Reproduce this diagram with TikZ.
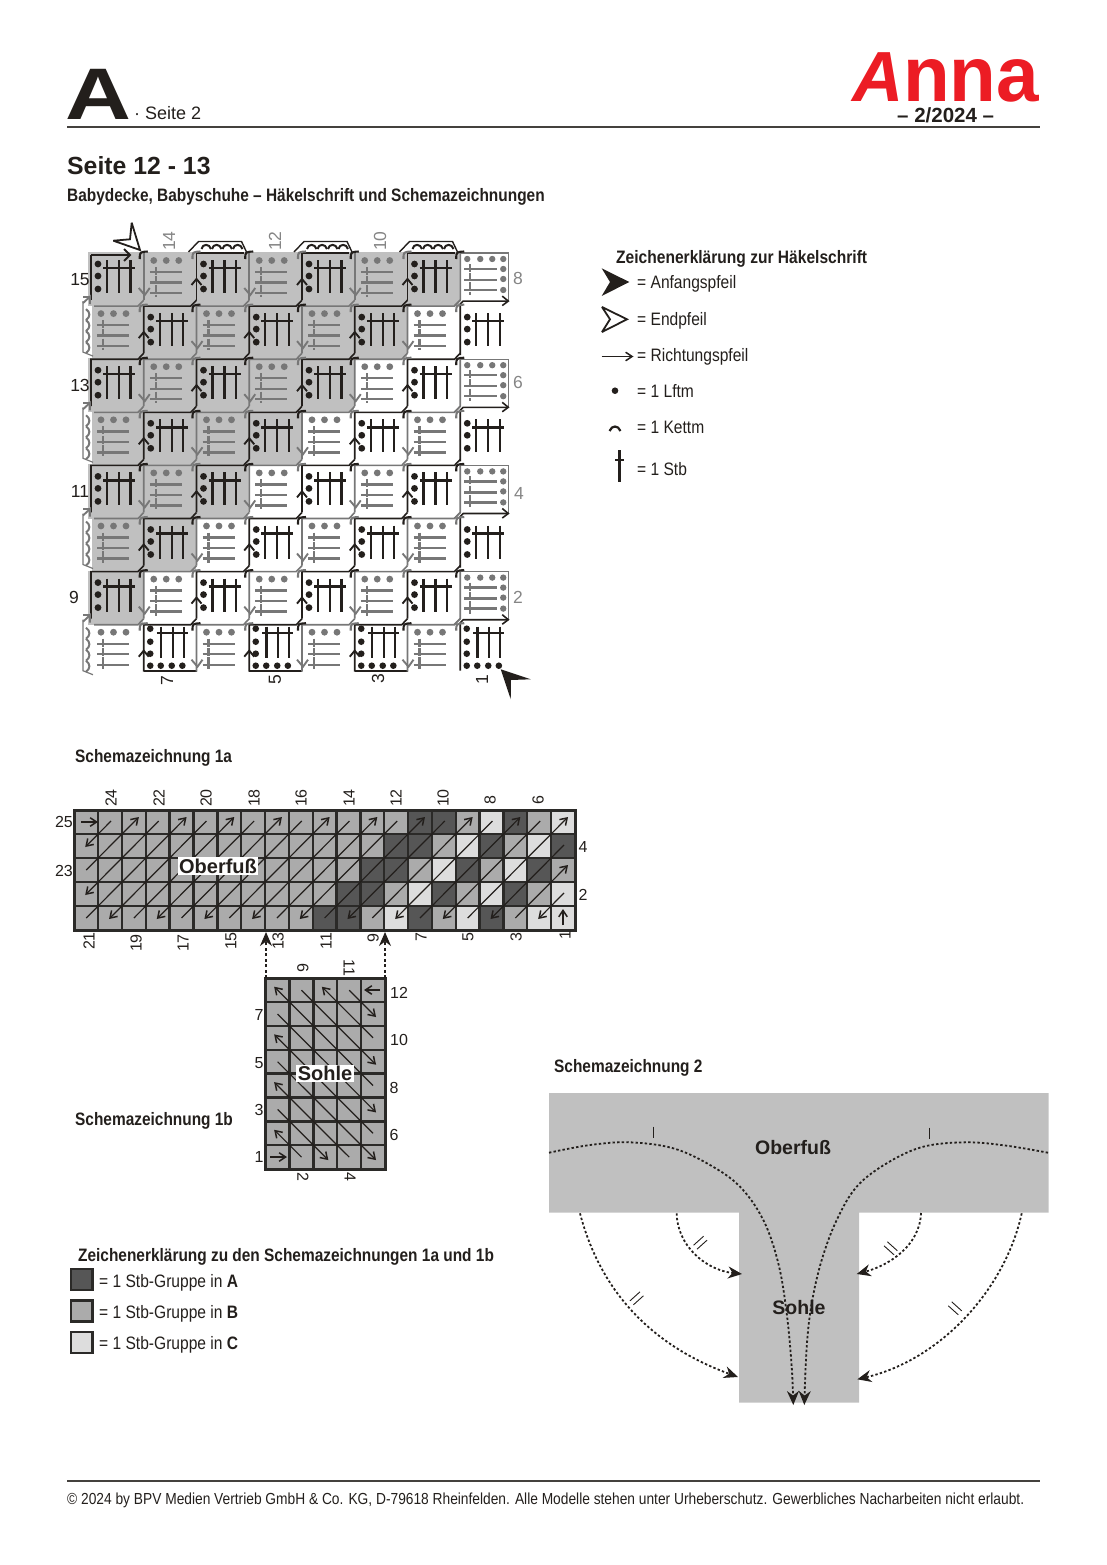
\documentclass[tikz,border=0pt]{standalone}
\usepackage{fontspec}
\setmainfont{Liberation Sans}
\newfontfamily\nar[FakeStretch=0.865]{Liberation Sans}
\newfontfamily\narb[FakeStretch=0.857]{Liberation Sans}
\newfontfamily\narf[FakeStretch=0.86]{Liberation Sans}
\usetikzlibrary{arrows.meta}
\definecolor{ink}{HTML}{231F1C}
\definecolor{gink}{HTML}{777777}
\definecolor{lab}{HTML}{858585}
\definecolor{shadeg}{HTML}{C0C0C0}
\definecolor{schemA}{HTML}{565656}
\definecolor{schemB}{HTML}{ABABAB}
\definecolor{schemC}{HTML}{DDDDDD}
\definecolor{grid}{HTML}{2B2A28}
\definecolor{annared}{HTML}{EC1C24}
\newcommand{\fs}[1]{\fontsize{#1}{#1}\selectfont}
\tikzset{
  txt/.style={inner sep=0pt,anchor=base west,text=ink},
  num/.style={inner sep=0pt,text=ink,font=\fs{17.5}},
  snum/.style={inner sep=0pt,text=ink,font=\fs{16}},
  gnum/.style={num,text=lab},
  rnum/.style={num,rotate=90},
  srnum/.style={snum,rotate=90},
  rrnum/.style={snum,rotate=-90},
  grnum/.style={gnum,rotate=90},
  barb/.style={-{Straight Barb[length=6.5pt,width=8.5pt,line width=1.5pt]},line width=1.2pt,draw=ink},
  dots/.style={line width=1.8pt,draw=ink,dash pattern=on 2.4pt off 2.2pt},
  dotsarr/.style={dots,-{Stealth[length=14pt,width=12pt,fill=ink]}},
  dashup/.style={line width=1.2pt,draw=ink,dash pattern=on 3pt off 2.5pt,-{Stealth[length=14pt,width=12pt,fill=ink]}},
  sgrid/.style={line width=2.4pt,draw=grid},
  sframe/.style={line width=3pt,draw=grid},
  tag/.style={inner sep=1.5pt,fill=white,text=ink,font=\bfseries\fs{20}},
  cellline/.style={line width=1.6pt,line join=miter},
  stem/.style={line width=2.4pt},
  key/.style={line width=2.8pt,draw=grid},
}
\begin{document}
\begin{tikzpicture}[x=1pt,y=-1pt]
\useasboundingbox (0,0) rectangle (1107,1565);
% ---------- header
\node[txt] (bigA) at (65,120) {\bfseries\fs{73}\scalebox{1.25}[1]{A}};
\node[txt] (seite) at (134,119.5) {\fs{18}· Seite 2};
\draw[line width=1.2pt,draw=ink!85] (67,127) -- (1040,127);
\node[txt,text=annared] (annaA) at (852,102) {\bfseries\itshape\fs{71}A};
\node[txt,text=annared] (annaB) at (903,102) {\bfseries\fs{78}\scalebox{0.98}[1]{nna}};
\node[txt] (issue) at (897,123) {\bfseries\fs{20.5}– 2/2024 –};
\node[txt] (pg) at (67,175) {\bfseries\fs{24.8}Seite 12 - 13};
\node[txt] (sub) at (67,201) {\narb\bfseries\fs{18}Babydecke, Babyschuhe – Häkelschrift und Schemazeichnungen};
% ---------- crochet chart: shading
\foreach \r in {0,...,6}{
  \pgfmathtruncatemacro{\last}{6-\r}
  \pgfmathsetmacro{\Ytop}{253+53.1*\r}
  \pgfmathsetmacro{\Xend}{91+52.75*(\last+1)}
  \pgfmathtruncatemacro{\od}{mod(\r,2)}
  \pgfmathsetmacro{\Xstart}{\od==1 ? 92 : 88}
  \fill[fill=shadeg] (\Xstart,\Ytop-1) rectangle (\Xend-1,\Ytop+53.1);
}
% ---------- crochet chart: cells
\foreach \r in {0,...,7}{
 \foreach \c in {0,...,7}{
  \pgfmathsetmacro{\X}{91+52.75*\c}
  \pgfmathsetmacro{\Y}{253+53.1*\r}
  \pgfmathtruncatemacro{\odd}{mod(\r+\c,2)}
  \begin{scope}[shift={(\X,\Y)}]
  \ifnum\odd=0
    % black stitch group
    \ifnum\r=7
      \foreach \a in {4,17,29,41}{\fill[ink] (6.5,\a) circle (3.3);}
      \foreach \a in {17,28,38.6}{\fill[ink] (\a,41) circle (3.3);}
      \draw[ink,stem] (13,8) -- (44,8);
      \foreach \a in {17.2,29,40}{\draw[ink,stem] (\a,2) -- (\a,33);}
    \else
      \foreach \a in {11,23,36}{\fill[ink] (7,\a) circle (3.4);}
      \draw[ink,stem] (12,15) -- (44,15);
      \foreach \a in {16,28,39.5}{\draw[ink,stem] (\a,7) -- (\a,40);}
    \fi
    \ifnum\c=7
      \draw[ink,cellline] (0,\ifnum\r=7 46\else 49\fi) -- (0,-2) -- (3,-5) -- (48,-5);
      \draw[ink,cellline] (42,-10) -- (48,-5) -- (42,-0.5);
    \else
      \ifnum\r=0
        \ifnum\c=0
          \draw[ink,cellline] (0,47) -- (0,2);
        \else
          \draw[ink,cellline] (0,47) -- (0,0) -- (47,0);
        \fi
      \else
        \draw[ink,cellline] (0,47) -- (0,0) -- (47,0) -- (52.75,-6);
      \fi
      \ifnum\c>0
        \draw[ink,line width=1.9pt] (-5,32) -- (0,26) -- (5,32);
      \fi
    \fi
    \ifnum\r=7 \ifnum\c<7 \draw[ink,cellline] (0,46) -- (53,46); \fi\fi
  \else
    % grey chain group
    \ifnum\c=7
      \foreach \a in {7,20,32,43}{\fill[gink] (\a,6) circle (3.2);}
      \foreach \a in {16,26,37}{\fill[gink] (43,\a) circle (3.2);}
      \foreach \a in {16,27,37}{\draw[gink,stem] (4,\a) -- (37,\a);}
      \draw[gink,stem,dash pattern=on 8pt off 1.2pt] (10,11) -- (10,42);
      \draw[gink,line width=1.3pt] (0,0) -- (48,0) -- (48,48);
      \draw[gink,cellline] (0,0) -- (0,47) -- (-6,53);
    \else
      \foreach \a in {10,22.5,35}{\fill[gink] (\a,7.5) circle (3.4);}
      \foreach \a in {19,29.5,40}{\draw[gink,stem] (6,\a) -- (38,\a);}
      \draw[gink,stem,dash pattern=on 8pt off 1.2pt] (12,14) -- (12,44);
      \ifnum\c=0
        \draw[gink,cellline] (3,0) -- (47,0) -- (52.75,-6);
        \draw[gink,line width=1.2pt] (-8,-5) -- (-8,46) -- (2,50);
        \draw[gink,line width=1.9pt] (-8,-3) -- (-1,-9.5) -- (-1,-2);
        \draw[gink,line width=1.9pt] (-8,-9.5) -- (-1,-9.5);
        \foreach \a in {0,1,2,3}{
          \draw[gink,line width=2pt] (-5,3+11*\a) .. controls (-0.5,6+11*\a) and (-0.5,11+11*\a) .. (-5,14+11*\a);
        }
      \else
        \ifnum\r=0
          \draw[gink,cellline] (0,0) -- (0,47);
        \else
          \draw[gink,cellline] (0,47) -- (0,0) -- (47,0) -- (52.75,-6);
        \fi
        \draw[gink,line width=1.9pt] (-5,35) -- (1,42) -- (6,35);
      \fi
    \fi
  \fi
  % slip stitch at the corner
  \ifnum\c>0
    \ifnum\odd=1
      \draw[ink,line width=2.1pt] (-4,6) .. controls (-4,-1) .. (4,-1.5);
    \else
      \draw[gink,line width=2.1pt] (-4,6) .. controls (-4,-1) .. (4,-1.5);
    \fi
  \fi
  % chains above the top row
  \ifnum\r=0 \ifnum\c>0 \ifnum\odd=0
    \draw[ink,line width=1.4pt] (-8,-1) -- (2,-11.5) -- (45,-11.5) -- (50,-1);
    \foreach \a in {0,1,2,3}{
      \draw[ink,line width=2pt] (5+10.5*\a,-4) .. controls (6+10.5*\a,-9.5) and (13+10.5*\a,-9.5) .. (14.5+10.5*\a,-4);
    }
  \fi\fi\fi
  \end{scope}
 }
}
% first-row arrow and End / Start arrows
\draw[ink,cellline] (91,255) -- (130,255);
\draw[ink,line width=1.9pt] (124,249) -- (130,255) -- (124,261);
\draw[ink,line width=1.8pt,line join=miter,miter limit=2.5] (140,250) -- (131.7,222.7) -- (130,239.3) -- (113.3,240.7) -- cycle;
\fill[ink] (500.7,669.3) -- (530.7,679.3) -- (511,680) -- (510.7,699.3) -- cycle;
% chart labels
\node[num] (l15) at (80,280) {15};
\node[num] (l13) at (80,385) {13};
\node[num] (l11) at (80,491) {11};
\node[num] (l9) at (74,597) {9};
\node[gnum] (r8) at (518,278) {8};
\node[gnum] (r6) at (518,382) {6};
\node[gnum] (r4) at (519,493) {4};
\node[gnum] (r2) at (518,597) {2};
\node[grnum] (t14) at (169,241) {14};
\node[grnum] (t12) at (275,241) {12};
\node[grnum] (t10) at (380,241) {10};
\node[rnum] (b7) at (167,681) {7};
\node[rnum] (b5) at (275,680) {5};
\node[rnum] (b3) at (378,679) {3};
\node[rnum] (b1) at (482,680) {1};
% ---------- legend crochet
\node[txt] (legtitle) at (616,263) {\nar\bfseries\fs{18}Zeichenerklärung zur Häkelschrift};
\fill[ink] (629.3,282) -- (601.7,268.3) -- (610,282) -- (601.7,296) -- cycle;
\node[txt] (lg1) at (637,288.5) {\nar\fs{18}= Anfangspfeil};
\draw[ink,line width=1.8pt,line join=miter,miter limit=2.5] (627,319.3) -- (602,307) -- (610,319.3) -- (602,332) -- cycle;
\node[txt] (lg2) at (637,325) {\nar\fs{18}= Endpfeil};
\draw[barb] (601.7,356.5) -- (633.5,356.5);
\node[txt] (lg3) at (637,361) {\nar\fs{18}= Richtungspfeil};
\fill[ink] (615,390.7) circle (3.3);
\node[txt] (lg4) at (637,397) {\nar\fs{18}= 1 Lftm};
\draw[ink,line width=2.2pt] (609.5,431) .. controls (612,425) and (618,425) .. (620.5,431);
\node[txt] (lg5) at (637,433) {\nar\fs{18}= 1 Kettm};
\draw[ink,line width=2.4pt] (619.5,450) -- (619.5,482);
\draw[ink,line width=2.2pt] (615,460) -- (624,460);
\node[txt] (lg6) at (637,475) {\nar\fs{18}= 1 Stb};
% ---------- Schemazeichnung 1a
\node[txt] (s1a) at (75,762) {\narb\bfseries\fs{18}Schemazeichnung 1a};
\fill[schemB] (74.3,810) rectangle (575,930);
\foreach \r/\lst in {0/{B,B,B,B,A,A,B,C,A,B,C},1/{B,B,B,A,A,B,C,A,B,C,A},2/{B,B,A,A,B,C,A,B,C,A,B},3/{B,A,A,B,C,A,B,C,A,B,C},4/{A,A,B,C,A,B,C,A,B,C,C}}{
  \foreach \l [count=\i from 10] in \lst {
    \fill[fill=schem\l] (74.3+23.84*\i,810+24*\r) rectangle (74.3+23.84*\i+23.84,810+24*\r+24);
  }
}
\foreach \i in {1,...,20}{\draw[sgrid] (74.3+23.84*\i,810) -- (74.3+23.84*\i,930);}
\foreach \j in {1,...,4}{\draw[sgrid] (74.3,810+24*\j) -- (575,810+24*\j);}
\draw[sframe] (74.3,810) rectangle (575,930);
% diagonals
\foreach \k in {1,...,23}{
  \pgfmathtruncatemacro{\cA}{max(\k-4,0)}
  \pgfmathtruncatemacro{\cB}{min(\k,20)}
  \pgfmathsetmacro{\xa}{74.3+23.84*(\cA+0.5)}
  \pgfmathsetmacro{\ya}{810+24*(\k-\cA+0.5)}
  \pgfmathsetmacro{\xb}{74.3+23.84*(\cB+0.5)}
  \pgfmathsetmacro{\yb}{810+24*(\k-\cB+0.5)}
  \pgfmathtruncatemacro{\kodd}{mod(\k,2)}
  \ifnum\kodd=1
    \draw[barb] (\xb+1,\yb-1) -- (\xa-1,\ya+1);
  \else
    \draw[barb] (\xa,\ya) -- (\xb+5,\yb-5);
  \fi
}
\draw[barb] (81,822) -- (98,822);
\draw[barb] (563,925) -- (563,909);
\foreach \n/\x/\y in {24/111/798,22/159/798,20/206/798,18/254/798,16/301/798,14/349/798,12/396/798,10/443/798,8/490/800,6/538/800,21/89/941,19/136/943,17/183/943,15/231/941,13/278/941,11/326/941,9/373/938,7/421/937,5/468/937,3/516/937,1/565/935}{
  \node[srnum] (oa\n) at (\x,\y) {\n};
}
\node[snum] (ol25) at (64,822) {25};
\node[snum] (ol23) at (64,871) {23};
\node[snum] (or4) at (583,847) {4};
\node[snum] (or2) at (583,895) {2};
\node[tag] (oberfuss) at (218,866) {Oberfuß};
% ---------- Schemazeichnung 1b
\node[txt] (s1b) at (75,1125) {\narb\bfseries\fs{18}Schemazeichnung 1b};
\fill[schemB] (265.7,978.3) rectangle (385,1169);
\foreach \i in {1,...,4}{\draw[sgrid] (265.7+23.86*\i,978.3) -- (265.7+23.86*\i,1169);}
\foreach \j in {1,...,7}{\draw[sgrid] (265.7,978.3+23.84*\j) -- (385,978.3+23.84*\j);}
\draw[sframe] (265.7,978.3) rectangle (385,1169);
\foreach \ca/\ra/\cb/\rb/\dirn in {0/6/1/7/n,0/5/2/7/s,0/4/3/7/n,0/3/4/7/s,0/2/4/6/n,0/1/4/5/s,0/0/4/4/n,1/0/4/3/s,2/0/4/2/n,3/0/4/1/s}{
  \pgfmathsetmacro{\xa}{265.7+23.86*(\ca+0.5)}
  \pgfmathsetmacro{\ya}{978.3+23.84*(\ra+0.5)}
  \pgfmathsetmacro{\xb}{265.7+23.86*(\cb+0.5)}
  \pgfmathsetmacro{\yb}{978.3+23.84*(\rb+0.5)}
  \if\dirn n
    \draw[barb] (\xb,\yb) -- (\xa-3.5,\ya-3.5);
  \else
    \draw[barb] (\xa,\ya) -- (\xb+3,\yb+3);
  \fi
}
\draw[barb] (270,1157) -- (287,1157);
\draw[barb] (380,990) -- (364,990);
\coordinate (upL) at (266,978);
\coordinate (upR) at (385,978);
\coordinate (upLt) at (266,932);
\coordinate (upRt) at (385,932);
\draw[dashup] (upL) -- (upLt);
\draw[dashup] (upR) -- (upRt);
\node[tag] (sohle1) at (325,1073.5) {Sohle};
\foreach \n/\y in {12/993,10/1040,8/1088,6/1135}{
  \pgfmathsetmacro{\xx}{\n>9 ? 399 : 394}
  \node[snum] (sr\n) at (\xx,\y) {\n};
}
\foreach \n/\y in {7/1015,5/1063,3/1110,1/1157}{\node[snum] (sl\n) at (259,\y) {\n};}
\node[rrnum] (st6) at (303,968) {6};
\node[rrnum] (st11) at (349,968) {11};
\node[rrnum] (sb2) at (303,1177) {2};
\node[rrnum] (sb4) at (350,1177) {4};
% ---------- legend 1a/1b
\node[txt] (keyt) at (78,1261) {\narb\bfseries\fs{18}Zeichenerklärung zu den Schemazeichnungen 1a und 1b};
\fill[schemA,draw=grid,key] (71,1269) rectangle (92.5,1290);
\node[txt] (k1) at (99,1287) {\nar\fs{18}= 1 Stb-Gruppe in \textbf{A}};
\fill[schemB,draw=grid,key] (71,1300.5) rectangle (92.5,1321.5);
\node[txt] (k2) at (99,1318) {\nar\fs{18}= 1 Stb-Gruppe in \textbf{B}};
\fill[schemC,draw=grid,key] (71,1332) rectangle (92.5,1353);
\node[txt] (k3) at (99,1349) {\nar\fs{18}= 1 Stb-Gruppe in \textbf{C}};
% ---------- Schemazeichnung 2
\node[txt] (s2) at (554,1072) {\narb\bfseries\fs{18}Schemazeichnung 2};
\fill[fill=shadeg] (549,1093) -- (1048.5,1093) -- (1048.5,1212.7) -- (859,1212.7) -- (859,1402.5) -- (739,1402.5) -- (739,1212.7) -- (549,1212.7) -- cycle;
\draw[dotsarr] plot[smooth,tension=0.6] coordinates {(549,1152.7) (590,1145) (630,1142.3) (673.3,1148.3) (710,1165) (740,1186.7) (763.3,1220) (778.3,1263.3) (786.7,1313.3) (791.7,1366.7) (793.3,1405)};
\draw[dotsarr] plot[smooth,tension=0.6] coordinates {(1048,1152.7) (1006.7,1145.7) (966.7,1142.3) (923.3,1146.7) (886.7,1163.3) (856.7,1186.7) (836.7,1220) (821.7,1260) (811.7,1303.3) (806.7,1346.7) (804.3,1405)};
\draw[ink,line width=1pt] (653.3,1126.7) -- (653.3,1138.3);
\draw[ink,line width=1pt] (929.3,1127.7) -- (929.3,1139.3);
\draw[dotsarr] (580,1213.3) .. controls (600,1290) and (650,1345) .. (738,1377);
\draw[dotsarr] (676.7,1213.3) .. controls (677,1245) and (705,1270) .. (742,1274);
\draw[dotsarr] (921,1213) .. controls (920,1245) and (890,1265) .. (856.7,1274);
\draw[dotsarr] (1021.7,1213.3) .. controls (1005,1290) and (940,1360) .. (857.3,1379.3);
\foreach \cx/\cy/\sg in {700.3/1242.7/1,636.7/1298.3/1,890.7/1248.3/-1,955/1308.3/-1}{
  \draw[ink,line width=0.9pt] (\cx-5-1.7*\sg,\cy+\sg*4.5-2) -- (\cx+5-1.7*\sg,\cy-\sg*4.5-2);
  \draw[ink,line width=0.9pt] (\cx-5+1.7*\sg,\cy+\sg*4.5+2) -- (\cx+5+1.7*\sg,\cy-\sg*4.5+2);
}
\node[inner sep=0pt,text=ink,font=\bfseries\fs{19.5}] (ofus2) at (793,1147.5) {Oberfuß};
\node[inner sep=0pt,text=ink,font=\bfseries\fs{19.5}] (soh2) at (799,1307.5) {Sohle};
% ---------- footer
\draw[line width=1.2pt,draw=ink!85] (67,1481) -- (1040,1481);
\node[txt] (foot) at (67,1504) {\narf\fs{16}© 2024 by BPV Medien Vertrieb GmbH \& Co. KG, D-79618 Rheinfelden. Alle Modelle stehen unter Urheberschutz. Gewerbliches Nacharbeiten nicht erlaubt.};
\end{tikzpicture}
\end{document}
